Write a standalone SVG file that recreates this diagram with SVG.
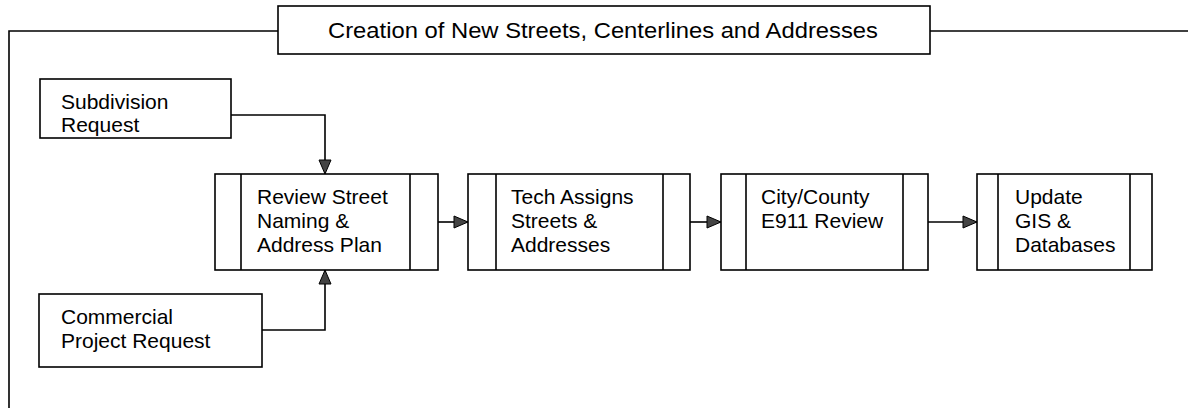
<svg xmlns="http://www.w3.org/2000/svg" width="1188" height="408" viewBox="0 0 1188 408">
<style>
.box{fill:#fff;stroke:#000;stroke-width:1.6}
.in{stroke:#000;stroke-width:1.6;fill:none}
.ln{stroke:#000;stroke-width:1.6;fill:none}
text{font-family:"Liberation Sans",Arial,sans-serif;font-size:21px;fill:#000}
.t{font-size:22px}
</style>
<defs>
<marker id="ah" markerUnits="userSpaceOnUse" markerWidth="16" markerHeight="14" refX="15" refY="7" orient="auto">
<path d="M1,1 L15,7 L1,13 z" fill="#444" stroke="#000" stroke-width="1"/>
</marker>
</defs>
<g id="frame">
<path class="ln" d="M9,408 L9,31 L278,31"/>
<path class="ln" d="M930,31 L1188,31"/>
</g>
<g id="title">
<rect class="box" x="278" y="6" width="652" height="48"/>
<text class="t" x="328" y="38" textLength="550" lengthAdjust="spacingAndGlyphs">Creation of New Streets, Centerlines and Addresses</text>
</g>
<g id="subdivision">
<rect class="box" x="40" y="79" width="191" height="59"/>
<text x="61" y="109">Subdivision</text>
<text x="61" y="132">Request</text>
</g>
<g id="commercial">
<rect class="box" x="39" y="294" width="223" height="73"/>
<text x="61" y="324">Commercial</text>
<text x="61" y="348">Project Request</text>
</g>
<g id="review">
<rect class="box" x="215" y="174" width="223" height="96"/>
<path class="in" d="M241,174 V270 M410,174 V270"/>
<text x="257" y="204">Review Street</text>
<text x="257" y="228">Naming &amp;</text>
<text x="257" y="252">Address Plan</text>
</g>
<g id="tech">
<rect class="box" x="468" y="174" width="222" height="96"/>
<path class="in" d="M496,174 V270 M663,174 V270"/>
<text x="511" y="204">Tech Assigns</text>
<text x="511" y="228">Streets &amp;</text>
<text x="511" y="252">Addresses</text>
</g>
<g id="city">
<rect class="box" x="721" y="174" width="207" height="96"/>
<path class="in" d="M746,174 V270 M903,174 V270"/>
<text x="761" y="204">City/County</text>
<text x="761" y="228">E911 Review</text>
</g>
<g id="update">
<rect class="box" x="977" y="174" width="175" height="96"/>
<path class="in" d="M998,174 V270 M1130,174 V270"/>
<text x="1015" y="204">Update</text>
<text x="1015" y="228">GIS &amp;</text>
<text x="1015" y="252">Databases</text>
</g>
<g id="connectors">
<path class="ln" d="M231,115 H325 V174" marker-end="url(#ah)"/>
<path class="ln" d="M262,330 H325 V270" marker-end="url(#ah)"/>
<path class="ln" d="M438,222 H468" marker-end="url(#ah)"/>
<path class="ln" d="M690,222 H721" marker-end="url(#ah)"/>
<path class="ln" d="M928,222 H977" marker-end="url(#ah)"/>
</g>
</svg>
